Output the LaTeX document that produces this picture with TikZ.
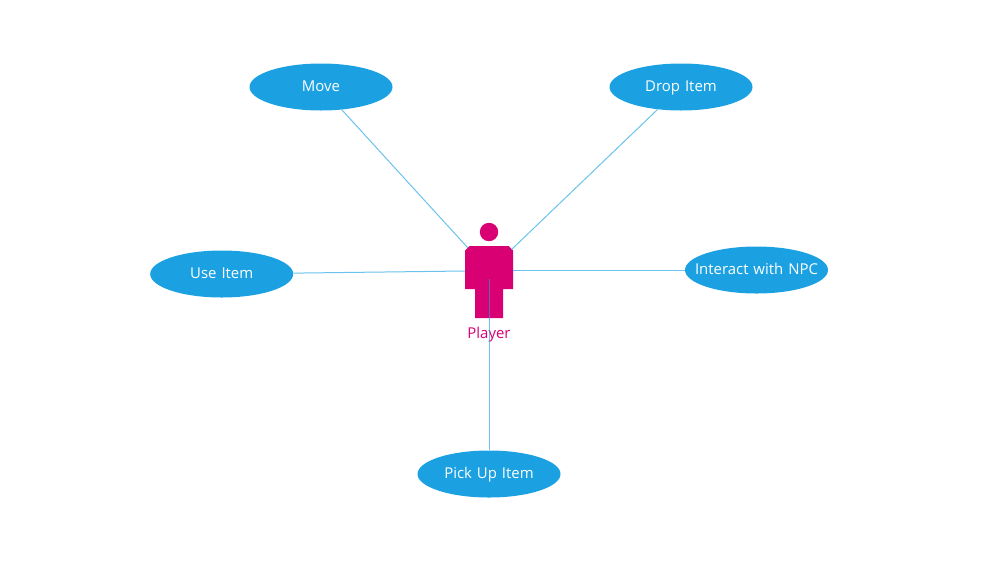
\documentclass[tikz,border=0pt]{standalone}
\usepackage{xcolor}
\usepackage{fontspec}
\setmainfont{Open Sans}
\usetikzlibrary{shapes.geometric}
\definecolor{usecaseblue}{HTML}{1BA1E2}
\definecolor{playerpink}{HTML}{D80073}

\begin{document}
\begin{tikzpicture}[x=0.75pt, y=-0.75pt,
    usecase/.style={ellipse, fill=usecaseblue, text=white, inner sep=0pt, text width=0pt, align=center, text height=8.5pt, text depth=2pt, minimum width=107.25pt, minimum height=35.25pt, font=\fontsize{11.2pt}{12pt}\selectfont},
    link/.style={usecaseblue, line width=0.75pt, opacity=0.65}]
  \useasboundingbox (0,0) rectangle (987,565);
  \node[usecase] (move) at (321,87) {\makebox[0pt]{Move}};
  \node[usecase] (dropitem) at (681,87) {\makebox[0pt]{Drop Item}};
  \node[usecase] (useitem) at (221.7,274) {\makebox[0pt]{Use Item}};
  \node[usecase] (interact) at (756.5,270) {\makebox[0pt]{Interact with NPC}};
  \node[usecase] (pickup) at (489,474) {\makebox[0pt]{Pick Up Item}};
  \fill[playerpink] (489,232) circle (9.2);
  \fill[playerpink] (469.5,246) -- (508.5,246) -- (513,250.5) -- (513,289) -- (503,289) -- (503,318) -- (475,318) -- (475,289) -- (465,289) -- (465,250.5) -- cycle;
  \node[text=playerpink, inner sep=0pt, font=\fontsize{11.2pt}{12pt}\selectfont] (player) at (489,334.5) {Player};
  \coordinate (playermove) at (468,248);
  \coordinate (playerdrop) at (511,250);
  \coordinate (playeruse) at (465,271);
  \coordinate (playerinteract) at (513,270);
  \coordinate (playerpick) at (489,279);
  \draw[link] (move) -- (playermove);
  \draw[link] (dropitem) -- (playerdrop);
  \draw[link] (useitem) -- (playeruse);
  \draw[link] (interact) -- (playerinteract);
  \draw[link] (pickup) -- (playerpick);
\end{tikzpicture}
\end{document}
